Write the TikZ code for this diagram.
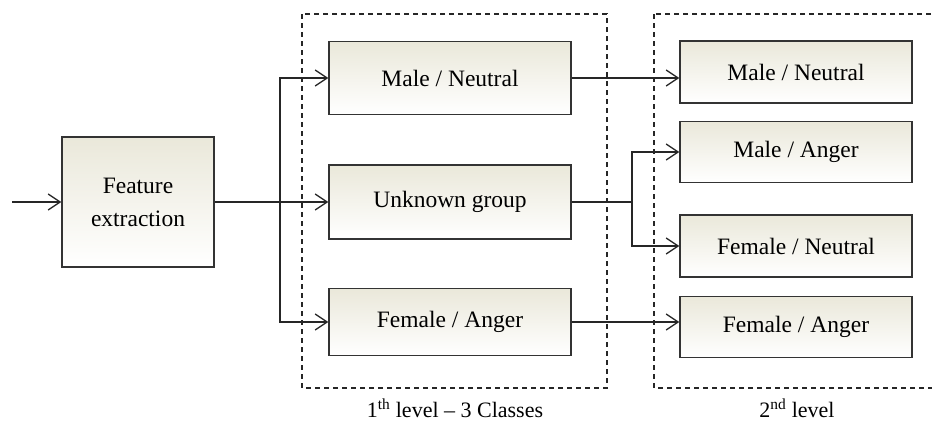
\documentclass[tikz,border=0pt]{standalone}
\usepackage{fontspec}
\setmainfont{Liberation Serif}
\usetikzlibrary{arrows.meta}
\definecolor{boxtop}{RGB}{234,232,218}
\begin{document}
\begin{tikzpicture}[x=1pt,y=-1pt,
  box/.style={draw=black!80, line width=1.4pt, top color=boxtop, bottom color=white,
    inner sep=0pt, align=center, font=\fontsize{23.5}{33}\selectfont},
  link/.style={draw=black!85, line width=1.3pt},
  arr/.style={link, -{Straight Barb[length=12pt,width=16pt,line width=1.3pt]}},
  group/.style={draw=black!85, line width=1.3pt, dash pattern=on 5pt off 4pt},
  caption/.style={font=\fontsize{22}{26}\selectfont, inner sep=1pt}]
  \clip (0,0) rectangle (932,423);

  % dashed level groups
  \draw[group] (302,14) rectangle (607,388);
  \draw[group] (654,14) rectangle (945,388);

  % feature extraction
  \node[box, minimum width=152pt, minimum height=130pt] (fe) at (138,202) {Feature\\extraction};
  \coordinate (in) at (12,202);

  % first level
  \node[box, minimum width=242pt, minimum height=73pt] (mn1) at (450,78) {Male / Neutral};
  \node[box, minimum width=242pt, minimum height=74pt] (ug) at (450,202) {Unknown group};
  \node[box, minimum width=242pt, minimum height=67pt] (fa1) at (450,322) {Female / Anger};

  % second level
  \node[box, minimum width=232pt, minimum height=62pt] (mn2) at (796,72) {Male / Neutral};
  \node[box, minimum width=232pt, minimum height=61pt] (ma2) at (796,152) {Male / Anger};
  \node[box, minimum width=232pt, minimum height=62pt] (fn2) at (796,246) {Female / Neutral};
  \node[box, minimum width=232pt, minimum height=61pt] (fa2) at (796,327) {Female / Anger};

  % branch points
  \coordinate (b1) at (280,202);
  \coordinate (b2) at (632,202);

  % connectors
  \draw[arr] (in) -- (fe.west);
  \draw[link] (fe.east) -- (b1);
  \draw[arr] (b1) -- (ug.west);
  \draw[arr] (b1) |- (mn1.west);
  \draw[arr] (b1) |- (fa1.west);
  \draw[arr] (mn1.east) -- (mn1.east -| mn2.west);
  \draw[link] (ug.east) -- (b2);
  \draw[arr] (b2) |- (ma2.west);
  \draw[arr] (b2) |- (fn2.west);
  \draw[arr] (fa1.east) -- (fa1.east -| fa2.west);

  % captions
  \node[caption] (c1) at (455,408) {1\textsuperscript{th} level -- 3 Classes};
  \node[caption] (c2) at (797,408) {2\textsuperscript{nd} level};
\end{tikzpicture}
\end{document}
